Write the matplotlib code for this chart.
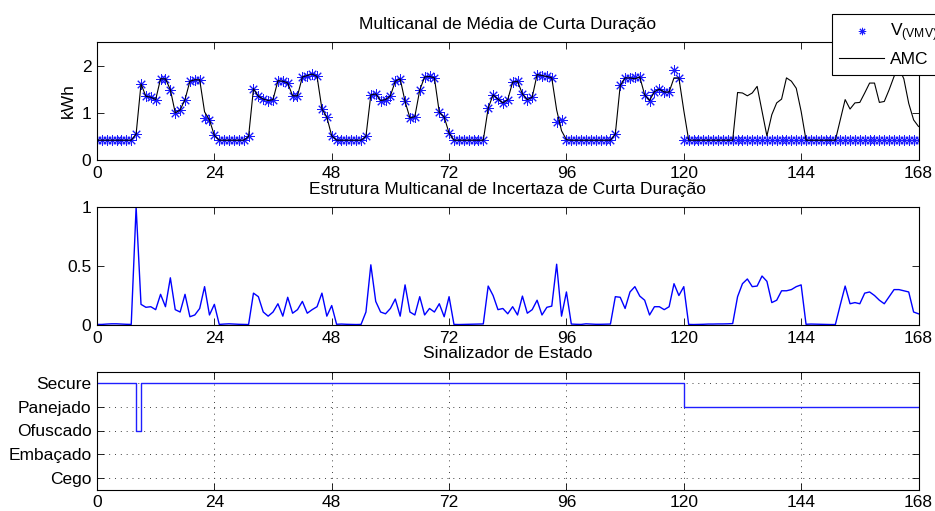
import matplotlib
matplotlib.use("Agg")
import matplotlib.pyplot as plt
import numpy as np

plt.rcParams['font.family'] = ['Liberation Sans', 'DejaVu Sans']
plt.rcParams['mathtext.fontset'] = 'custom'
plt.rcParams['mathtext.rm'] = 'Liberation Sans'

# ---- data: one value per hour, hours 0..168 ----
hours = np.arange(0, 169)

# AMC consumption (kWh)
amc = [
    0.42, 0.42, 0.42, 0.42, 0.42, 0.42, 0.42, 0.42, 0.55, 1.61, 1.35, 1.33,
    1.28, 1.72, 1.72, 1.49, 1.00, 1.06, 1.28, 1.67, 1.70, 1.70, 1.02, 0.85,
    0.52, 0.42, 0.42, 0.42, 0.42, 0.42, 0.42, 0.50, 1.51, 1.35, 1.29, 1.26,
    1.28, 1.68, 1.67, 1.63, 1.36, 1.36, 1.76, 1.79, 1.82, 1.77, 1.08, 0.91,
    0.51, 0.42, 0.42, 0.42, 0.42, 0.42, 0.42, 0.50, 1.38, 1.40, 1.26, 1.28,
    1.36, 1.67, 1.72, 1.24, 0.89, 0.92, 1.48, 1.76, 1.77, 1.74, 1.01, 0.91,
    0.57, 0.42, 0.42, 0.42, 0.42, 0.42, 0.42, 0.42, 1.10, 1.38, 1.29, 1.21,
    1.28, 1.65, 1.67, 1.40, 1.28, 1.33, 1.81, 1.79, 1.77, 1.74, 1.06, 0.62,
    0.43, 0.42, 0.42, 0.42, 0.42, 0.42, 0.42, 0.42, 0.42, 0.42, 0.55, 1.58,
    1.74, 1.74, 1.72, 1.76, 1.38, 1.26, 1.45, 1.50, 1.44, 1.44, 1.74, 1.74,
    1.05, 0.42, 0.42, 0.42, 0.42, 0.42, 0.42, 0.42, 0.42, 0.42, 0.42, 1.43,
    1.42, 1.36, 1.42, 1.56, 1.04, 0.51, 0.96, 1.21, 1.29, 1.74, 1.67, 1.52,
    1.03, 0.42, 0.42, 0.42, 0.42, 0.42, 0.42, 0.42, 0.85, 1.28, 1.08, 1.21,
    1.22, 1.42, 1.63, 1.63, 1.22, 1.24, 1.49, 1.77, 1.95, 1.72, 1.20, 0.85,
    0.71,
]

# V(VMV) short-term multichannel mean (kWh)
vmv = [
    0.42, 0.42, 0.42, 0.42, 0.42, 0.42, 0.42, 0.42, 0.55, 1.61, 1.35, 1.33,
    1.28, 1.72, 1.72, 1.49, 1.00, 1.06, 1.28, 1.67, 1.70, 1.70, 0.88, 0.85,
    0.52, 0.42, 0.42, 0.42, 0.42, 0.42, 0.42, 0.50, 1.51, 1.35, 1.29, 1.26,
    1.28, 1.68, 1.67, 1.63, 1.36, 1.36, 1.76, 1.79, 1.82, 1.77, 1.08, 0.91,
    0.51, 0.42, 0.42, 0.42, 0.42, 0.42, 0.42, 0.50, 1.38, 1.40, 1.26, 1.28,
    1.36, 1.67, 1.72, 1.24, 0.89, 0.92, 1.48, 1.76, 1.77, 1.74, 1.01, 0.91,
    0.57, 0.42, 0.42, 0.42, 0.42, 0.42, 0.42, 0.42, 1.10, 1.38, 1.29, 1.21,
    1.28, 1.65, 1.67, 1.40, 1.28, 1.33, 1.81, 1.79, 1.77, 1.74, 0.80, 0.85,
    0.43, 0.42, 0.42, 0.42, 0.42, 0.42, 0.42, 0.42, 0.42, 0.42, 0.55, 1.58,
    1.74, 1.74, 1.75, 1.76, 1.38, 1.26, 1.45, 1.50, 1.44, 1.44, 1.90, 1.74,
    0.42, 0.42, 0.42, 0.42, 0.42, 0.42, 0.42, 0.42, 0.42, 0.42, 0.42, 0.42,
    0.42, 0.42, 0.42, 0.42, 0.42, 0.42, 0.42, 0.42, 0.42, 0.42, 0.42, 0.42,
    0.42, 0.42, 0.42, 0.42, 0.42, 0.42, 0.42, 0.42, 0.42, 0.42, 0.42, 0.42,
    0.42, 0.42, 0.42, 0.42, 0.42, 0.42, 0.42, 0.42, 0.42, 0.42, 0.42, 0.42,
    0.42,
]

# short-term multichannel uncertainty structure (normalised)
incerteza = [
    0.005, 0.005, 0.008, 0.010, 0.010, 0.008, 0.006, 0.005, 1.000, 0.175, 0.150, 0.155,
    0.130, 0.260, 0.155, 0.400, 0.130, 0.110, 0.260, 0.070, 0.085, 0.140, 0.325, 0.085,
    0.175, 0.005, 0.008, 0.010, 0.008, 0.006, 0.005, 0.004, 0.270, 0.240, 0.110, 0.075,
    0.110, 0.180, 0.075, 0.235, 0.100, 0.130, 0.200, 0.100, 0.130, 0.155, 0.270, 0.075,
    0.165, 0.006, 0.008, 0.006, 0.005, 0.004, 0.005, 0.110, 0.510, 0.200, 0.110, 0.095,
    0.140, 0.220, 0.075, 0.340, 0.110, 0.085, 0.240, 0.085, 0.140, 0.110, 0.180, 0.070,
    0.240, 0.005, 0.004, 0.005, 0.006, 0.007, 0.008, 0.009, 0.330, 0.250, 0.130, 0.140,
    0.095, 0.155, 0.085, 0.245, 0.100, 0.130, 0.210, 0.085, 0.150, 0.160, 0.515, 0.075,
    0.280, 0.008, 0.006, 0.005, 0.010, 0.008, 0.006, 0.006, 0.007, 0.008, 0.240, 0.235,
    0.140, 0.280, 0.325, 0.245, 0.210, 0.085, 0.155, 0.155, 0.130, 0.155, 0.350, 0.250,
    0.325, 0.005, 0.004, 0.005, 0.006, 0.008, 0.008, 0.009, 0.009, 0.010, 0.012, 0.240,
    0.350, 0.390, 0.325, 0.330, 0.415, 0.370, 0.190, 0.210, 0.290, 0.290, 0.300, 0.325,
    0.340, 0.006, 0.008, 0.007, 0.006, 0.005, 0.004, 0.004, 0.170, 0.330, 0.180, 0.190,
    0.180, 0.270, 0.280, 0.250, 0.210, 0.180, 0.240, 0.300, 0.300, 0.290, 0.280, 0.110,
    0.095,
]

# state flag: 1=Cego, 2=Embaçado, 3=Ofuscado, 4=Panejado, 5=Secure
state_labels = ['Cego', 'Embaçado', 'Ofuscado', 'Panejado', 'Secure']
estado = [
    5, 5, 5, 5, 5, 5, 5, 5, 3, 5, 5, 5, 5, 5, 5, 5, 5, 5, 5, 5, 5, 5, 5, 5,
    5, 5, 5, 5, 5, 5, 5, 5, 5, 5, 5, 5, 5, 5, 5, 5, 5, 5, 5, 5, 5, 5, 5, 5,
    5, 5, 5, 5, 5, 5, 5, 5, 5, 5, 5, 5, 5, 5, 5, 5, 5, 5, 5, 5, 5, 5, 5, 5,
    5, 5, 5, 5, 5, 5, 5, 5, 5, 5, 5, 5, 5, 5, 5, 5, 5, 5, 5, 5, 5, 5, 5, 5,
    5, 5, 5, 5, 5, 5, 5, 5, 5, 5, 5, 5, 5, 5, 5, 5, 5, 5, 5, 5, 5, 5, 5, 5,
    4, 4, 4, 4, 4, 4, 4, 4, 4, 4, 4, 4, 4, 4, 4, 4, 4, 4, 4, 4, 4, 4, 4, 4,
    4, 4, 4, 4, 4, 4, 4, 4, 4, 4, 4, 4, 4, 4, 4, 4, 4, 4, 4, 4, 4, 4, 4, 4,
    4,
]

xticks = [0, 24, 48, 72, 96, 120, 144, 168]

titles = ['Multicanal de Média de Curta Duração',
          'Estrutura Multicanal de Incertaza de Curta Duração',
          'Sinalizador de Estado']

FS = 12.5
fig = plt.figure(figsize=(9.35, 5.11), dpi=100)

left, width, height = 97 / 935, 821.5 / 935, 118 / 511
ax1 = fig.add_axes([left, 1 - 160 / 511, width, height])
ax2 = fig.add_axes([left, 1 - 325 / 511, width, height])
ax3 = fig.add_axes([left, 1 - 489.5 / 511, width, height])


def style(ax):
    for s in ax.spines.values():
        s.set_linewidth(0.8)
        s.set_color('black')
    ax.tick_params(direction='in', top=True, right=True, length=5, width=0.6,
                   labelsize=FS, pad=4, colors='black')
    ax.set_xlim(0, 168)
    ax.set_xticks(xticks)


# top: V(VMV) markers and AMC line
ax1.plot(hours, vmv, linestyle='none', marker=(8, 2, 0), markersize=7.5,
         markeredgecolor='#1a1aff', markeredgewidth=0.7, color='blue',
         label=r'$\mathregular{V_{(VMV)}}$')
ax1.plot(hours, amc, color='black', linewidth=0.8, label='AMC')
style(ax1)
ax1.set_ylim(0, 2.5)
ax1.set_yticks([0, 1, 2])
ax1.set_ylabel('kWh', fontsize=FS, labelpad=4)
ax1.set_title(titles[0], fontsize=FS, pad=9.5)

leg = ax1.legend(loc='upper left', bbox_to_anchor=(831.5 / 935, 1 - 14 / 511),
                 bbox_transform=fig.transFigure, borderaxespad=0,
                 fontsize=FS, fancybox=False, framealpha=1, edgecolor='black',
                 handlelength=2.6, handletextpad=0.3, borderpad=0.45,
                 labelspacing=0.45, markerscale=0.7)
leg.get_frame().set_linewidth(0.8)

# middle: uncertainty structure
ax2.plot(hours, incerteza, color='blue', linewidth=1.0)
style(ax2)
ax2.set_ylim(0, 1)
ax2.set_yticks([0, 0.5, 1])
ax2.set_yticklabels(['0', '0.5', '1'])
ax2.set_title(titles[1], fontsize=FS, pad=9.5)

# bottom: state flag
ax3.step(hours, estado, where='post', color='#1f1fff', linewidth=1.0)
style(ax3)
ax3.set_ylim(0.5, 5.5)
ax3.set_yticks([1, 2, 3, 4, 5])
ax3.set_yticklabels(state_labels)
ax3.grid(True, linestyle=(0, (1, 5)), color='#404040', linewidth=0.7)
ax3.set_axisbelow(True)
ax3.set_title(titles[2], fontsize=FS, pad=9.5)

fig.savefig('out.png', dpi=100)
